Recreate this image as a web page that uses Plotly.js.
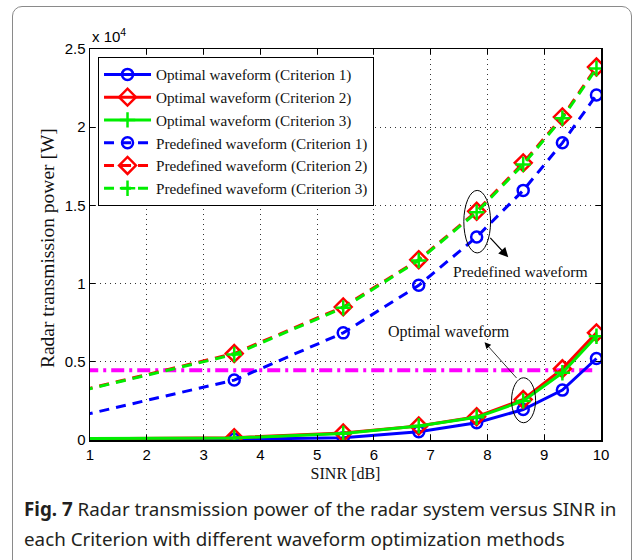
<!DOCTYPE html>
<html>
<head>
<meta charset="utf-8">
<script src="https://cdn.plot.ly/plotly-3.0.1.min.js"></script>
<style>
  html, body { margin: 0; padding: 0; background: #fff; overflow: hidden; }
  #wrap { position: relative; width: 636px; height: 560px; }
  #chart { position: absolute; left: 0; top: 0; width: 636px; height: 560px; }
  #frame { position: absolute; left: 12px; top: 6px; width: 618px; height: 620px;
           border: 1.3px solid #8a8a8a; border-radius: 10px; pointer-events: none; }
</style>
</head>
<body>
<div id="wrap">
  <div id="chart"></div>
  <div id="frame"></div>
</div>
<script>
// SINR [dB]
const sinr = [0, 3.54, 5.46, 6.79, 7.81, 8.63, 9.32, 9.92];
// Radar transmission power [W]
const optimal1 = [20, 40, 150, 530, 1100, 1950, 3190, 5210];
const optimal2 = [60, 150, 450, 890, 1490, 2590, 4550, 6850];
const optimal3 = [80, 130, 420, 900, 1450, 2500, 4300, 6630];
const predefined1 = [850, 3830, 6850, 9890, 12980, 15960, 19000, 22060];
const predefined2 = [2430, 5530, 8510, 11530, 14620, 17720, 20660, 23850];
const predefined3 = [2420, 5470, 8450, 11480, 14560, 17620, 20580, 23750];
const powerLimit = 4460;

const seriesNames = [
  'Optimal waveform (Criterion 1)',
  'Optimal waveform (Criterion 2)',
  'Optimal waveform (Criterion 3)',
  'Predefined waveform (Criterion 1)',
  'Predefined waveform (Criterion 2)',
  'Predefined waveform (Criterion 3)'
];
const xTickVals = [1, 2, 3, 4, 5, 6, 7, 8, 9, 10];
const yTickVals = [0, 5000, 10000, 15000, 20000, 25000];
const yTickText = ['0', '0.5', '1', '1.5', '2', '2.5'];

const serif = 'Liberation Serif, Times New Roman, serif';
const sans = 'Liberation Sans, Arial, Helvetica, sans-serif';

const BLUE = '#0000ff', RED = '#ff0000', GREEN = '#00ee00';
const DASH = '10px,7px';

function tr(y, name, color, dash, sym, msize) {
  return {
    x: sinr, y: y, name: name, type: 'scatter', mode: 'lines+markers',
    line: { color: color, width: 3, dash: dash },
    marker: { symbol: sym, size: msize, color: color, line: { color: color, width: 2.5 } },
    cliponaxis: true
  };
}

const data = [
  { x: [sinr[0], sinr[sinr.length - 1]], y: [powerLimit, powerLimit], type: 'scatter', mode: 'lines',
    line: { color: '#ff00ff', width: 4, dash: '13px,5px,3px,5px' }, showlegend: false, hoverinfo: 'skip' },
  tr(optimal1, seriesNames[0], BLUE, 'solid', 'circle-open', 11),
  tr(optimal2, seriesNames[1], RED, 'solid', 'diamond-open', 13),
  tr(optimal3, seriesNames[2], GREEN, 'solid', 'cross-thin-open', 11),
  tr(predefined1, seriesNames[3], BLUE, DASH, 'circle-open', 11),
  tr(predefined2, seriesNames[4], RED, DASH, 'diamond-open', 13),
  tr(predefined3, seriesNames[5], GREEN, DASH, 'cross-thin-open', 11)
];

const layout = {
  width: 636, height: 560,
  margin: { l: 90, r: 35, t: 49, b: 120 },
  paper_bgcolor: 'rgba(0,0,0,0)', plot_bgcolor: '#fff',
  showlegend: true,
  legend: {
    x: 0.0157, y: 0.9795, xanchor: 'left', yanchor: 'top',
    bgcolor: '#fff', bordercolor: '#000', borderwidth: 1,
    font: { family: serif, size: 15.2, color: '#111' },
    tracegroupgap: 0, itemwidth: 47
  },
  xaxis: {
    range: [1, 10], tickvals: xTickVals, ticks: 'inside', ticklen: 5, tickcolor: '#000',
    showline: true, linecolor: '#000', linewidth: 1.5, mirror: 'ticks',
    showgrid: true, gridcolor: '#333', griddash: '1px,4px', gridwidth: 1, zeroline: false,
    tickfont: { family: sans, size: 15, color: '#000' },
    title: { text: 'SINR [dB]', font: { family: serif, size: 16, color: '#111' }, standoff: 6 }
  },
  yaxis: {
    range: [0, 25000], tickvals: yTickVals, ticktext: yTickText, ticks: 'inside', ticklen: 5, tickcolor: '#000',
    showline: true, linecolor: '#000', linewidth: 1.5, mirror: 'ticks',
    showgrid: true, gridcolor: '#333', griddash: '1px,4px', gridwidth: 1, zeroline: false,
    tickfont: { family: sans, size: 15, color: '#000' }
  },
  shapes: [
    { type: 'circle', xref: 'x', yref: 'y', x0: 7.584, x1: 8.055, y0: 11961, y1: 15958,
      line: { color: '#000', width: 1 } },
    { type: 'circle', xref: 'x', yref: 'y', x0: 8.425, x1: 8.848, y0: 1105, y1: 3978,
      line: { color: '#000', width: 1 } }
  ],
  annotations: [
    { xref: 'paper', yref: 'paper', x: -0.084, y: 0.491, xanchor: 'center', yanchor: 'middle', textangle: -90,
      text: 'Radar transmission power [W]', showarrow: false, font: { family: serif, size: 19.5, color: '#111' } },
    { xref: 'paper', yref: 'paper', x: 0, y: 1.005, xanchor: 'left', yanchor: 'bottom',
      text: 'x 10<sup>4</sup>', showarrow: false, font: { family: sans, size: 15, color: '#000' } },
    { xref: 'x', yref: 'y', x: 8.367, y: 11680, axref: 'x', ayref: 'y', ax: 8.025, ay: 13020,
      text: '', showarrow: true, arrowhead: 2, arrowsize: 1.6, arrowwidth: 1.2, arrowcolor: '#000' },
    { xref: 'x', yref: 'y', x: 8.584, y: 10785, text: 'Predefined waveform', showarrow: false,
      font: { family: serif, size: 15.6, color: '#111' } },
    { xref: 'x', yref: 'y', x: 7.949, y: 6252, axref: 'x', ayref: 'y', ax: 8.536, ay: 3870,
      text: '', showarrow: true, arrowhead: 2, arrowsize: 1.6, arrowwidth: 0.8, arrowcolor: '#000' },
    { xref: 'x', yref: 'y', x: 7.33, y: 6890, text: 'Optimal waveform', showarrow: false,
      font: { family: serif, size: 16, color: '#111' } },
    { xref: 'paper', yref: 'paper', x: -0.133, y: -0.176, xanchor: 'left', yanchor: 'middle',
      text: '<b>Fig. 7</b> Radar transmission power of the radar system versus SINR in',
      showarrow: false, font: { family: 'Noto Sans, sans-serif', size: 18.8, color: '#231f20' } },
    { xref: 'paper', yref: 'paper', x: -0.133, y: -0.253, xanchor: 'left', yanchor: 'middle',
      text: 'each Criterion with different waveform optimization methods',
      showarrow: false, font: { family: 'Noto Sans, sans-serif', size: 18.8, color: '#231f20' } }
  ]
};

Plotly.newPlot('chart', data, layout, { displayModeBar: false, staticPlot: true });
</script>
</body>
</html>
